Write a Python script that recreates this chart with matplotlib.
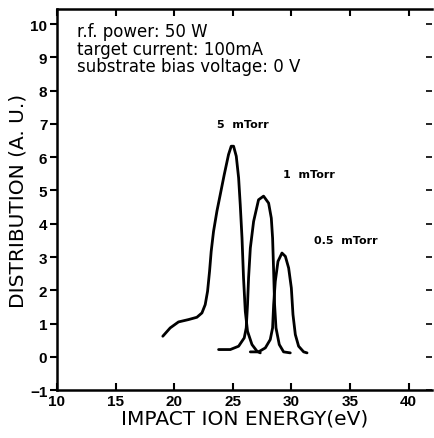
import numpy as np
import matplotlib.pyplot as plt

# values
x_5mtorr = [19.03, 19.66, 20.37, 21.22, 21.94, 22.37, 22.65, 22.85, 23.02, 23.16, 23.36,
            23.65, 23.93, 24.27, 24.64, 24.87, 25.07, 25.3, 25.5, 25.64, 25.79, 25.92,
            26.07, 26.26, 26.64, 27.07, 27.35]
y_5mtorr = [0.62, 0.87, 1.05, 1.12, 1.19, 1.32, 1.57, 1.97, 2.57, 3.17, 3.77,
            4.38, 4.87, 5.47, 6.08, 6.33, 6.33, 6.03, 5.38, 4.57, 3.57, 2.37,
            1.37, 0.77, 0.37, 0.17, 0.12]

x_1mtorr = [23.79, 24.79, 25.5, 25.98, 26.15, 26.26, 26.35, 26.5, 26.78, 27.2, 27.63,
            28.06, 28.29, 28.4, 28.49, 28.57, 28.69, 28.97, 29.34, 29.91]
y_1mtorr = [0.22, 0.22, 0.32, 0.57, 0.87, 1.57, 2.37, 3.27, 4.07, 4.72, 4.83,
            4.62, 4.17, 3.57, 2.57, 1.57, 0.87, 0.37, 0.15, 0.12]

x_05mtorr = [26.5, 27.2, 27.78, 28.2, 28.4, 28.49, 28.63, 28.86, 29.2, 29.49, 29.77,
             30.0, 30.14, 30.34, 30.62, 31.05, 31.34]
y_05mtorr = [0.15, 0.15, 0.27, 0.52, 0.87, 1.57, 2.27, 2.87, 3.12, 3.02, 2.67,
             2.07, 1.27, 0.67, 0.32, 0.15, 0.12]

conditions = ['r.f. power: 50 W', 'target current: 100mA', 'substrate bias voltage: 0 V']
x_ticks = [10, 15, 20, 25, 30, 35, 40]
y_ticks = list(range(-1, 11))

plt.rcParams['font.family'] = ['DejaVu Sans']

fig = plt.figure(figsize=(4.35, 4.39), dpi=100)
ax = fig.add_axes([0.131, 0.109, 0.862, 0.868])

for xs, ys in [(x_5mtorr, y_5mtorr), (x_1mtorr, y_1mtorr), (x_05mtorr, y_05mtorr)]:
    ax.plot(xs, ys, color='black', lw=2.0, solid_joinstyle='round',
            solid_capstyle='round')

ax.set_xlim(10, 42)
ax.set_ylim(-1, 10.45)
ax.set_xticks(x_ticks)
ax.set_yticks(y_ticks)
ax.tick_params(axis='x', direction='in', top=True, length=5, width=1.5,
               labelsize=11, pad=3)
ax.tick_params(axis='y', direction='out', length=5, width=1.5,
               labelsize=11, pad=2)
ax.tick_params(axis='y', right=True)
for t in ax.yaxis.get_major_ticks():
    t.tick2line.set_marker(0)  # right-side dash drawn toward the inside
    t.tick2line.set_markersize(4)
    t.tick2line.set_markeredgewidth(1.2)
for lab in ax.get_xticklabels() + ax.get_yticklabels():
    lab.set_fontweight('bold')
    lab.set_family(['Liberation Sans', 'DejaVu Sans'])
ax.spines['right'].set_visible(False)
for s in ['left', 'bottom', 'top']:
    ax.spines[s].set_linewidth(1.8)

ax.set_xlabel('IMPACT ION ENERGY(eV)', fontsize=14.5, labelpad=0)
ax.set_ylabel('DISTRIBUTION (A. U.)', fontsize=14.5, labelpad=2)

for i, t in enumerate(conditions):
    ax.text(0.054, 0.965 - i * 0.045, t, transform=ax.transAxes, fontsize=12,
            va='top', ha='left')

ax.text(25.9, 7.0, '5  mTorr', fontsize=8, fontweight='bold', ha='center', va='center')
ax.text(29.3, 5.5, '1  mTorr', fontsize=8, fontweight='bold', ha='left', va='center')
ax.text(31.9, 3.5, '0.5  mTorr', fontsize=8, fontweight='bold', ha='left', va='center')

fig.savefig('out.png', dpi=100)
